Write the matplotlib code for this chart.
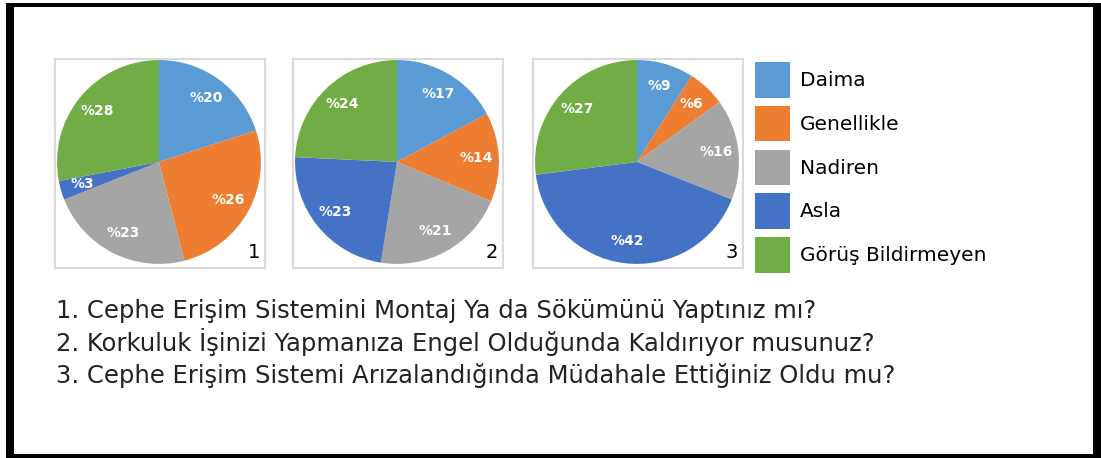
import matplotlib
matplotlib.use('Agg')
import matplotlib.pyplot as plt
from matplotlib.patches import Patch, Rectangle

# answer categories and colours
categories = ['Daima', 'Genellikle', 'Nadiren', 'Asla', 'Görüş Bildirmeyen']
colors = ['#5B9BD5', '#ED7D31', '#A5A5A5', '#4472C4', '#70AD47']

# percentages for each question
q1 = [20, 26, 23, 3, 28]
q2 = [17, 14, 21, 23, 24]
q3 = [9, 6, 16, 42, 27]
pie_numbers = ['1', '2', '3']

questions = [
    '1. Cephe Erişim Sistemini Montaj Ya da Sökümünü Yaptınız mı?',
    '2. Korkuluk İşinizi Yapmanıza Engel Olduğunda Kaldırıyor musunuz?',
    '3. Cephe Erişim Sistemi Arızalandığında Müdahale Ettiğiniz Oldu mu?',
]

W, H = 1101, 458
fig = plt.figure(figsize=(W / 100, H / 100), dpi=100)
fig.patch.set_facecolor('white')


def px_box(x0, y0, x1, y1):
    # pixel box (top-left origin) -> figure fraction rect
    return [x0 / W, 1 - y1 / H, (x1 - x0) / W, (y1 - y0) / H]


# black frame around the figure
for (x0, y0, x1, y1) in [(6, 3, 14, 458), (6, 3, 1101, 7), (1093, 3, 1101, 458), (6, 454, 1101, 458)]:
    r = px_box(x0, y0, x1, y1)
    fig.patches.append(Rectangle((r[0], r[1]), r[2], r[3], transform=fig.transFigure,
                                 facecolor='black', edgecolor='none'))

box_lefts = [55, 293, 533]
for left, vals, num in zip(box_lefts, [q1, q2, q3], pie_numbers):
    ax = fig.add_axes(px_box(left, 59, left + 210, 268))
    labels = ['%' + str(v) for v in vals]
    wedges, texts = ax.pie(vals, colors=colors, labels=labels, startangle=90,
                           counterclock=False, labeldistance=0.78,
                           wedgeprops=dict(linewidth=0.5, edgecolor='none'),
                           textprops=dict(color='white', fontsize=10, fontweight='bold'))
    for t in texts:
        t.set_ha('center')
        t.set_va('center')
    ax.set_aspect('auto')
    ax.set_xlim(-1.02, 1.04)
    ax.set_ylim(-1.04, 1.01)
    ax.set_frame_on(True)
    ax.set_xticks([])
    ax.set_yticks([])
    for s in ax.spines.values():
        s.set_visible(True)
        s.set_color('#D9D9D9')
        s.set_linewidth(1.5)
    ax.text(0.975, 0.03, num, transform=ax.transAxes, ha='right', va='bottom',
            fontsize=14, color='black')

handles = [Patch(facecolor=c, edgecolor='none', label=n) for c, n in zip(colors, categories)]
fig.legend(handles=handles, loc='upper left', bbox_to_anchor=(755 / W, 1 - 62 / H),
           frameon=False, fontsize=14.5, handlelength=1.75, handleheight=2.35,
           labelspacing=0.4, handletextpad=0.5, borderpad=0, borderaxespad=0)

for i, q in enumerate(questions):
    fig.text(56 / W, 1 - (318 + i * 32.5) / H, q, ha='left', va='baseline',
             fontsize=17.5, color='#222222')

fig.savefig('out.png', dpi=100)
